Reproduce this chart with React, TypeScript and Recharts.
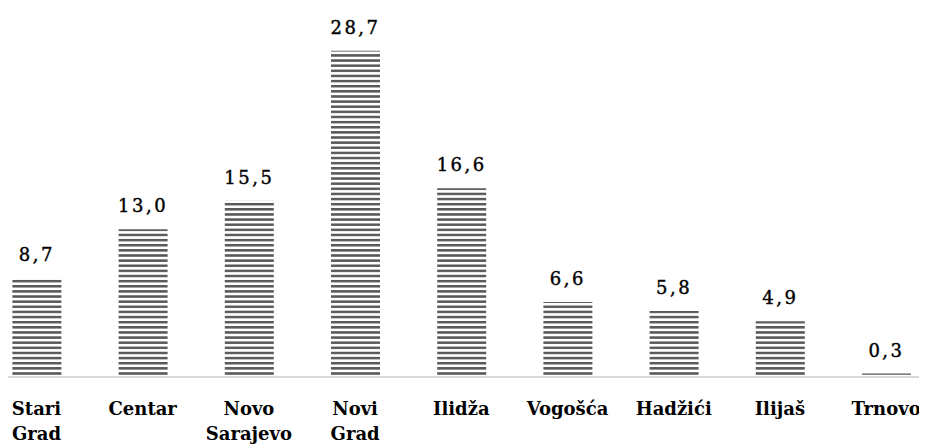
import React from "react";
import { BarChart, Bar, XAxis, YAxis, LabelList } from "recharts";

const categories = [
  "Stari Grad",
  "Centar",
  "Novo Sarajevo",
  "Novi Grad",
  "Ilidža",
  "Vogošća",
  "Hadžići",
  "Ilijaš",
  "Trnovo",
];
const values = [8.7, 13.0, 15.5, 28.7, 16.6, 6.6, 5.8, 4.9, 0.3];
const valueLabels = ["8,7", "13,0", "15,5", "28,7", "16,6", "6,6", "5,8", "4,9", "0,3"];

const data = categories.map((c, i) => ({ name: c, value: values[i], label: valueLabels[i] }));

const FONT = "'DejaVu Serif', serif";

const Tick = (props: any) => {
  const { x, y, payload } = props;
  const words = String(payload.value).split(" ");
  return (
    <text
      x={x}
      y={y}
      textAnchor="middle"
      fontFamily={FONT}
      fontSize={18}
      fontWeight="bold"
      fill="#000"
    >
      {words.map((w, i) => (
        <tspan key={i} x={x} dy={i === 0 ? 30 : 25}>
          {w}
        </tspan>
      ))}
    </text>
  );
};

const ValueLabel = (props: any) => {
  const { x, y, width, index } = props;
  return (
    <text
      x={x + width / 2}
      y={y - 17}
      textAnchor="middle"
      fontFamily={FONT}
      fontSize={18}
      letterSpacing={2.5}
      fill="#000"
      stroke="#000"
      strokeWidth={0.4}
    >
      {valueLabels[index]}
    </text>
  );
};

export default function App() {
  return (
    <div style={{ width: 919, height: 438 }}>
      <BarChart
        width={919}
        height={438}
        data={data}
        margin={{ top: 28, right: 0, left: 0, bottom: 0 }}
        barSize={49}
      >
        <defs>
          <pattern id="stripes" patternUnits="userSpaceOnUse" width={10} height={5.13}>
            <rect x={0} y={0} width={10} height={2.5} fill="#595959" />
          </pattern>
        </defs>
        <YAxis hide domain={[0, 30]} />
        <XAxis
          dataKey="name"
          axisLine={{ stroke: "#d9d9d9", strokeWidth: 2 }}
          tickLine={false}
          tick={<Tick />}
          interval={0}
          padding={{ left: -24.6, right: -12.2 }}
          height={69}
        />
        <Bar dataKey="value" fill="url(#stripes)" isAnimationActive={false}>
          <LabelList dataKey="label" content={<ValueLabel />} />
        </Bar>
      </BarChart>
    </div>
  );
}
